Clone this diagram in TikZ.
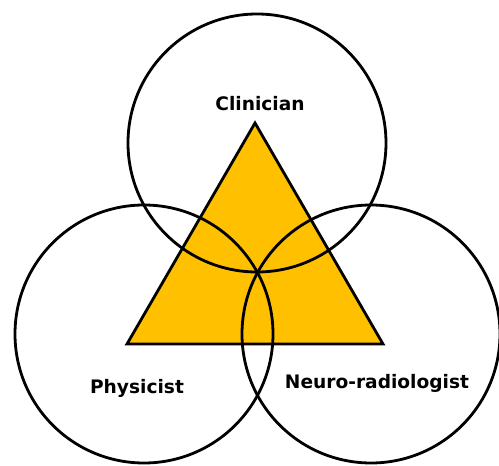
\documentclass[tikz,border=0pt]{standalone}
\usepackage{fontspec}
\setmainfont{DejaVu Sans}
\definecolor{gold}{HTML}{FFC000}
\tikzset{
  ring/.style={draw=black, line width=1.4pt},
  role/.style={font=\fontsize{9.3}{11}\selectfont\bfseries, inner sep=0pt}
}

\begin{document}
\begin{tikzpicture}[x=0.5pt, y=-0.5pt]
  \useasboundingbox (0,0) rectangle (499,466);
  \coordinate (top) at (255,123);
  \coordinate (bl) at (127,344);
  \coordinate (br) at (383,344);
  \coordinate (cc) at (257,143);
  \coordinate (cp) at (144,334);
  \coordinate (cn) at (371,334);
  \filldraw[gold, draw=black, line width=1.4pt, line join=miter] (bl) -- (br) -- (top) -- cycle;
  \draw[ring] (cc) circle [radius=64.5pt];
  \draw[ring] (cp) circle [radius=64.5pt];
  \draw[ring] (cn) circle [radius=64.5pt];
  \node[role] (clin) at (260,104) {Clinician};
  \node[role] (phys) at (137,388) {Physicist};
  \node[role] (neuro) at (377,383) {Neuro-radiologist};
\end{tikzpicture}
\end{document}
